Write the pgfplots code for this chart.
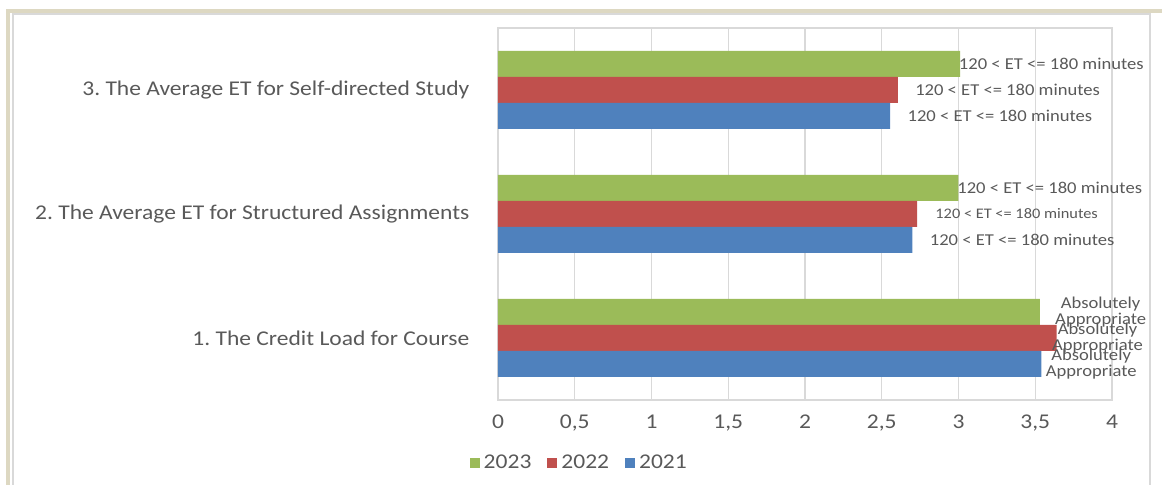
\documentclass[border=0pt]{standalone}
\usepackage{pgfplots}
\pgfplotsset{compat=1.18}
\usepackage{pgfplotstable}
\usepackage{fontspec}
\setmainfont{Carlito}[FakeStretch=1.12]
\frenchspacing

\definecolor{c23}{HTML}{9BBB59}
\definecolor{c22}{HTML}{C0504D}
\definecolor{c21}{HTML}{4F81BD}
\definecolor{txt}{HTML}{595959}
\definecolor{gridc}{HTML}{D9D9D9}
\definecolor{frame}{HTML}{DDD8C2}

\newcommand\etlab{120 < ET <= 180 minutes}
\newcommand\etsmall{{\fontsize{7.3}{8}\selectfont 120 < ET <= 180 minutes}}
\newcommand\absapp{Absolutely\\Appropriate}

% y = category, x = value, sh = label shift (pt)
\pgfplotstableread{
y x lab sh
1 3.53 {\absapp} 7.5
2 3.00 {\etlab} -0.75
3 3.01 {\etlab} -0.75
}\tabA
\pgfplotstableread{
y x lab sh
1 3.64 {\absapp} -2.5
2 2.73 {\etsmall} 9
3 2.605 {\etlab} 8.5
}\tabB
\pgfplotstableread{
y x lab sh
1 3.54 {\absapp} 2
2 2.70 {\etlab} 8.5
3 2.555 {\etlab} 8.5
}\tabC

\begin{document}
\begin{tikzpicture}
\useasboundingbox (-249pt,-42.5pt) rectangle (332pt,200pt);
\draw[frame, line width=2pt] (-245pt,-43pt) -- (-245pt,194.5pt) -- (333pt,194.5pt);
\draw[gridc, line width=0.6pt] (-242.5pt,-43pt) -- (-242.5pt,193pt) -- (326pt,193pt) -- (326pt,-43pt);
\begin{axis}[
    at={(0,0)}, anchor=south west,
    scale only axis,
    width=307pt, height=186pt,
    xbar, bar width=13pt,
    xmin=0, xmax=4,
    ymin=0.5, ymax=3.5,
    xtick={0,0.5,...,4},
    ytick={1,2,3},
    yticklabels={1. The Credit Load for Course,
                 2. The Average ET for Structured Assignments,
                 3. The Average ET for Self-directed Study},
    /pgf/number format/use comma,
    /pgf/number format/assume math mode=true,
    tick style={draw=none},
    xmajorgrids=true,
    grid style={gridc, line width=0.6pt},
    axis line style={gridc, line width=0.6pt},
    tick label style={font=\fontsize{10.5}{12}\selectfont, text=txt},
    yticklabel style={xshift=-6.5pt},
    xticklabel style={yshift=-4pt},
    point meta=explicit symbolic,
    nodes near coords,
    visualization depends on={\thisrow{sh} \as \labshift},
    every node near coord/.append style={
        font=\fontsize{8.3}{8}\selectfont, text=txt,
        anchor=west, inner sep=0pt, align=center,
        xshift=\labshift*1pt},
    legend style={
        at={(0.134,-0.169)}, anchor=center,
        draw=none, fill=none,
        legend columns=-1,
        font=\fontsize{10.5}{12}\selectfont, text=txt,
        /tikz/every even column/.append style={column sep=6pt}},
    legend image code/.code={\fill[#1] (0pt,-2.5pt) rectangle (5pt,2.5pt);},
]
\addplot[fill=c23, draw=none, bar shift=13pt] table[x=x, y=y, meta=lab] {\tabA};
\addplot[fill=c22, draw=none, bar shift=0pt] table[x=x, y=y, meta=lab] {\tabB};
\addplot[fill=c21, draw=none, bar shift=-13pt] table[x=x, y=y, meta=lab] {\tabC};
\legend{2023, 2022, 2021}
\end{axis}
\end{tikzpicture}
\end{document}
